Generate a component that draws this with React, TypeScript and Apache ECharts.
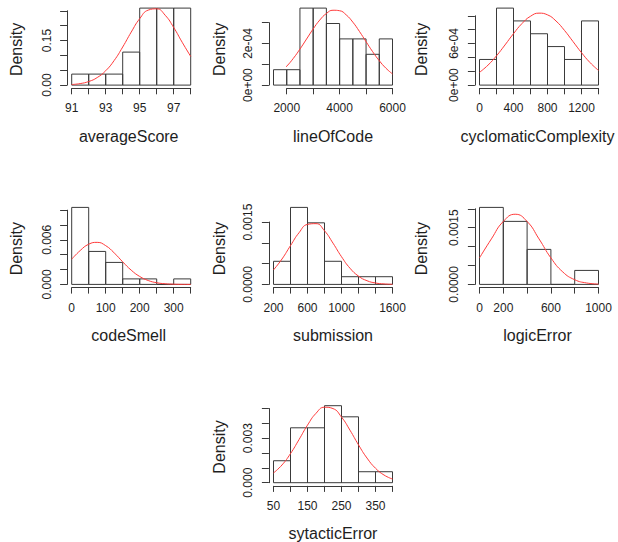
import { useEffect, useRef } from "react";
import * as echarts from "echarts";

// ---------- data (density per bin, normal-curve samples) ----------
const averageScoreBreaks = [91, 92, 93, 94, 95, 96, 97, 98];
const averageScoreDensity = [0.037, 0.037, 0.037, 0.111, 0.259, 0.259, 0.259];
const averageScoreCurveX = [91, 91.5, 92, 92.5, 93, 93.5, 94, 94.5, 95, 95.5, 96, 96.5, 97, 97.5, 98];
const averageScoreCurveY = [0.00196, 0.00511, 0.01199, 0.02536, 0.0483, 0.08286, 0.1281, 0.1782, 0.2234, 0.2522, 0.2565, 0.2349, 0.1938, 0.144, 0.0964];
const averageScoreXAxis = [91, 98, 1];
const averageScoreXLabels = [91, 93, 95, 97];
const averageScoreYAxis = [0, 0.25, 0.05];
const averageScoreYLabelValues = [0, 0.15];
const averageScoreYLabelTexts = ["0.00", "0.15"];

const lineOfCodeBreaks = [1500, 2000, 2500, 3000, 3500, 4000, 4500, 5000, 5500, 6000];
const lineOfCodeDensity = [0.74e-4, 0.74e-4, 3.7e-4, 3.7e-4, 2.96e-4, 2.22e-4, 2.22e-4, 1.48e-4, 2.22e-4];
const lineOfCodeCurveX = [1500, 1750, 2000, 2250, 2500, 2750, 3000, 3250, 3500, 3750, 4000, 4250, 4500, 4750, 5000, 5250, 5500, 5750, 6000];
const lineOfCodeCurveY = [0.4e-4, 0.615e-4, 0.91e-4, 1.285e-4, 1.73e-4, 2.213e-4, 2.698e-4, 3.126e-4, 3.44e-4, 3.597e-4, 3.574e-4, 3.373e-4, 3.025e-4, 2.578e-4, 2.087e-4, 1.605e-4, 1.173e-4, 0.814e-4, 0.537e-4];
const lineOfCodeXAxis = [2000, 6000, 1000];
const lineOfCodeXLabels = [2000, 4000, 6000];
const lineOfCodeYAxis = [0, 3e-4, 1e-4];
const lineOfCodeYLabelValues = [0, 2e-4];
const lineOfCodeYLabelTexts = ["0e+00", "2e-04"];

const cyclomaticBreaks = [0, 200, 400, 600, 800, 1000, 1200, 1400];
const cyclomaticDensity = [3.7e-4, 11.11e-4, 9.26e-4, 7.41e-4, 5.56e-4, 3.7e-4, 9.26e-4];
const cyclomaticCurveX = [0, 100, 200, 300, 400, 500, 600, 700, 800, 900, 1000, 1100, 1200, 1300, 1400];
const cyclomaticCurveY = [1.836e-4, 2.881e-4, 4.227e-4, 5.794e-4, 7.421e-4, 8.883e-4, 9.933e-4, 10.381e-4, 10.138e-4, 9.25e-4, 7.888e-4, 6.284e-4, 4.679e-4, 3.256e-4, 2.116e-4];
const cyclomaticXAxis = [0, 1400, 200];
const cyclomaticXLabels = [0, 400, 800, 1200];
const cyclomaticYAxis = [0, 1e-3, 2e-4];
const cyclomaticYLabelValues = [0, 6e-4];
const cyclomaticYLabelTexts = ["0e+00", "6e-04"];

const codeSmellBreaks = [0, 50, 100, 150, 200, 250, 300, 350];
const codeSmellDensity = [0.01037, 0.00444, 0.00296, 0.00074, 0.00074, 0, 0.00074];
const codeSmellCurveX = [0, 25, 50, 75, 100, 125, 150, 175, 200, 225, 250, 275, 300, 325, 350];
const codeSmellCurveY = [0.003388, 0.004561, 0.005411, 0.00566, 0.005218, 0.004241, 0.003039, 0.001919, 0.001069, 0.000524, 0.000227, 0.0000865, 0.0000291, 0.0000086, 0.0000022];
const codeSmellXAxis = [0, 350, 50];
const codeSmellXLabels = [0, 100, 200, 300];
const codeSmellYAxis = [0, 0.01, 0.002];
const codeSmellYLabelValues = [0, 0.006];
const codeSmellYLabelTexts = ["0.000", "0.006"];

const submissionBreaks = [200, 400, 600, 800, 1000, 1200, 1400, 1600];
const submissionDensity = [0.000556, 0.001852, 0.001481, 0.000556, 0.000185, 0.000185, 0.000185];
const submissionCurveX = [200, 300, 400, 500, 600, 700, 800, 900, 1000, 1100, 1200, 1300, 1400, 1500, 1600];
const submissionCurveY = [0.000348, 0.000611, 0.000933, 0.001242, 0.001443, 0.001461, 0.001289, 0.000992, 0.000666, 0.000389, 0.000199, 0.0000883, 0.0000342, 0.0000116, 0.0000034];
const submissionXAxis = [200, 1600, 200];
const submissionXLabels = [200, 600, 1000, 1600];
const submissionYAxis = [0, 0.0015, 0.0005];
const submissionYLabelValues = [0, 0.0015];
const submissionYLabelTexts = ["0.0000", "0.0015"];

const logicErrorBreaks = [0, 200, 400, 600, 800, 1000];
const logicErrorDensity = [0.002037, 0.001667, 0.000926, 0, 0.00037];
const logicErrorCurveX = [0, 100, 200, 300, 400, 500, 600, 700, 800, 900, 1000];
const logicErrorCurveY = [0.000701, 0.001204, 0.001665, 0.001856, 0.001665, 0.001204, 0.000701, 0.000329, 0.000124, 0.0000378, 0.0000093];
const logicErrorXAxis = [0, 1000, 200];
const logicErrorXLabels = [0, 200, 600, 1000];
const logicErrorYAxis = [0, 0.002, 0.0005];
const logicErrorYLabelValues = [0, 0.0015];
const logicErrorYLabelTexts = ["0.0000", "0.0015"];

const sytacticErrorBreaks = [50, 100, 150, 200, 250, 300, 350, 400];
const sytacticErrorDensity = [0.00148, 0.0037, 0.0037, 0.00519, 0.00444, 0.00074, 0.00074];
const sytacticErrorCurveX = [50, 75, 100, 125, 150, 175, 200, 225, 250, 275, 300, 325, 350, 375, 400];
const sytacticErrorCurveY = [0.000657, 0.001195, 0.001961, 0.002904, 0.003879, 0.004677, 0.005088, 0.004995, 0.004424, 0.003537, 0.002551, 0.001661, 0.000975, 0.000517, 0.000247];
const sytacticErrorXAxis = [50, 400, 50];
const sytacticErrorXLabels = [50, 150, 250, 350];
const sytacticErrorYAxis = [0, 0.005, 0.001];
const sytacticErrorYLabelValues = [0, 0.003];
const sytacticErrorYLabelTexts = ["0.000", "0.003"];

// ---------- layout / style ----------
const FONT = "'Liberation Sans', Arial, Helvetica, sans-serif";
const TEXT = "#1e1e1e";
const LINE = "#3a3a3a";
const RED = "#ff3a3a";
const BIN_START = [71.7, 273.5, 479.5];
const ZERO_Y = [85.1, 284.4, 482.7];
const BIN_SPAN = 119;
const MAX_BAR_PX = 77;
const PAD_X = 4.6;
const X_AXIS_GAP = 3.2;
const Y_NAME_GAP = [42.5, 41.5, 45.5];
const X_NAME_SHIFT = [-2.5, 0, -1.5];
const NAME_CENTER_ABOVE_ZERO = 35.7;
const TICK_FONT = 12;

type Panel = {
  title: string;
  breaks: number[];
  dens: number[];
  cx: number[];
  cy: number[];
  xAxis: number[];
  xLabels: number[];
  yAxis: number[];
  yLabelValues: number[];
  yLabelTexts: string[];
  col: number;
  row: number;
};

const panels: Panel[] = [
  { title: "averageScore", breaks: averageScoreBreaks, dens: averageScoreDensity, cx: averageScoreCurveX, cy: averageScoreCurveY, xAxis: averageScoreXAxis, xLabels: averageScoreXLabels, yAxis: averageScoreYAxis, yLabelValues: averageScoreYLabelValues, yLabelTexts: averageScoreYLabelTexts, col: 0, row: 0 },
  { title: "lineOfCode", breaks: lineOfCodeBreaks, dens: lineOfCodeDensity, cx: lineOfCodeCurveX, cy: lineOfCodeCurveY, xAxis: lineOfCodeXAxis, xLabels: lineOfCodeXLabels, yAxis: lineOfCodeYAxis, yLabelValues: lineOfCodeYLabelValues, yLabelTexts: lineOfCodeYLabelTexts, col: 1, row: 0 },
  { title: "cyclomaticComplexity", breaks: cyclomaticBreaks, dens: cyclomaticDensity, cx: cyclomaticCurveX, cy: cyclomaticCurveY, xAxis: cyclomaticXAxis, xLabels: cyclomaticXLabels, yAxis: cyclomaticYAxis, yLabelValues: cyclomaticYLabelValues, yLabelTexts: cyclomaticYLabelTexts, col: 2, row: 0 },
  { title: "codeSmell", breaks: codeSmellBreaks, dens: codeSmellDensity, cx: codeSmellCurveX, cy: codeSmellCurveY, xAxis: codeSmellXAxis, xLabels: codeSmellXLabels, yAxis: codeSmellYAxis, yLabelValues: codeSmellYLabelValues, yLabelTexts: codeSmellYLabelTexts, col: 0, row: 1 },
  { title: "submission", breaks: submissionBreaks, dens: submissionDensity, cx: submissionCurveX, cy: submissionCurveY, xAxis: submissionXAxis, xLabels: submissionXLabels, yAxis: submissionYAxis, yLabelValues: submissionYLabelValues, yLabelTexts: submissionYLabelTexts, col: 1, row: 1 },
  { title: "logicError", breaks: logicErrorBreaks, dens: logicErrorDensity, cx: logicErrorCurveX, cy: logicErrorCurveY, xAxis: logicErrorXAxis, xLabels: logicErrorXLabels, yAxis: logicErrorYAxis, yLabelValues: logicErrorYLabelValues, yLabelTexts: logicErrorYLabelTexts, col: 2, row: 1 },
  { title: "sytacticError", breaks: sytacticErrorBreaks, dens: sytacticErrorDensity, cx: sytacticErrorCurveX, cy: sytacticErrorCurveY, xAxis: sytacticErrorXAxis, xLabels: sytacticErrorXLabels, yAxis: sytacticErrorYAxis, yLabelValues: sytacticErrorYLabelValues, yLabelTexts: sytacticErrorYLabelTexts, col: 1, row: 2 },
];

function buildOption() {
  const grid: any[] = [];
  const xAxis: any[] = [];
  const yAxis: any[] = [];
  const series: any[] = [];

  panels.forEach((p, i) => {
    const [xMin, xMax, xStep] = p.xAxis;
    const [yMin, yMax, yStep] = p.yAxis;
    const maxD = Math.max(...p.dens);
    const pxY = MAX_BAR_PX / maxD;
    const gridH = (yMax - yMin) * pxY;
    const gridTop = ZERO_Y[p.row] - gridH;
    const first = p.breaks[0];
    const last = p.breaks[p.breaks.length - 1];
    const pxX = BIN_SPAN / (last - first);
    const gridLeft = BIN_START[p.col] + (xMin - first) * pxX;
    const gridW = (xMax - xMin) * pxX;
    const plotLeft = BIN_START[p.col] - PAD_X;
    const yOffset = gridLeft - plotLeft;
    const shiftX = BIN_START[p.col] + BIN_SPAN / 2 + X_NAME_SHIFT[p.col] - (gridLeft + gridW / 2);
    const shiftUp = NAME_CENTER_ABOVE_ZERO - gridH / 2;

    grid.push({ left: gridLeft, top: gridTop, width: gridW, height: gridH, containLabel: false, outerBoundsMode: "none" });

    xAxis.push({
      type: "value",
      gridIndex: i,
      position: "bottom",
      min: xMin,
      max: xMax,
      interval: xStep,
      offset: X_AXIS_GAP,
      axisLine: { show: true, onZero: false, lineStyle: { color: LINE, width: 1 } },
      axisTick: { show: true, inside: false, length: 6, lineStyle: { color: LINE, width: 1 } },
      splitLine: { show: false },
      axisLabel: {
        show: true,
        margin: 14,
        fontSize: TICK_FONT,
        color: TEXT,
        fontFamily: FONT,
        showMinLabel: true,
        showMaxLabel: true,
        formatter: (v: number) => {
          const hit = p.xLabels.find((l) => Math.abs(l - v) < xStep * 1e-3);
          return hit === undefined ? "" : String(hit);
        },
      },
      name: p.title,
      nameLocation: "middle",
      nameGap: 40,
      nameMoveOverlap: false,
      nameTextStyle: {
        fontSize: 16,
        color: TEXT,
        fontFamily: FONT,
        padding: shiftX >= 0 ? [0, 0, 0, 2 * shiftX] : [0, -2 * shiftX, 0, 0],
      },
    });

    yAxis.push({
      type: "value",
      gridIndex: i,
      position: "left",
      min: yMin,
      max: yMax,
      interval: yStep,
      offset: yOffset,
      axisLine: { show: true, onZero: false, lineStyle: { color: LINE, width: 1 } },
      axisTick: { show: true, inside: false, length: 7, lineStyle: { color: LINE, width: 1 } },
      splitLine: { show: false },
      axisLabel: {
        show: true,
        rotate: 90,
        margin: 14.5,
        fontSize: TICK_FONT,
        color: TEXT,
        fontFamily: FONT,
        showMinLabel: true,
        showMaxLabel: true,
        formatter: (v: number) => {
          const k = p.yLabelValues.findIndex((l) => Math.abs(l - v) < yStep * 1e-3);
          return k < 0 ? "" : p.yLabelTexts[k];
        },
      },
      name: "Density",
      nameLocation: "middle",
      nameGap: Y_NAME_GAP[p.col],
      nameMoveOverlap: false,
      nameTextStyle: {
        fontSize: 16,
        color: TEXT,
        fontFamily: FONT,
        padding: shiftUp >= 0 ? [0, 0, 0, 2 * shiftUp] : [0, -2 * shiftUp, 0, 0],
      },
    });

    const bins = p.dens.map((d, k) => [p.breaks[k], p.breaks[k + 1], d]);
    series.push({
      type: "custom",
      xAxisIndex: i,
      yAxisIndex: i,
      clip: false,
      silent: true,
      data: bins,
      encode: { x: [0, 1], y: 2 },
      renderItem: (_params: any, api: any) => {
        const a = api.coord([api.value(0), 0]);
        const b = api.coord([api.value(1), api.value(2)]);
        return {
          type: "rect",
          shape: { x: a[0], y: b[1], width: b[0] - a[0], height: a[1] - b[1] },
          style: { fill: "none", stroke: LINE, lineWidth: 1 },
        };
      },
    });

    series.push({
      type: "line",
      xAxisIndex: i,
      yAxisIndex: i,
      clip: false,
      silent: true,
      smooth: true,
      symbol: "none",
      showSymbol: false,
      data: p.cx.map((x, k) => [x, p.cy[k]]),
      lineStyle: { color: RED, width: 1 },
    });
  });

  return {
    animation: false,
    backgroundColor: "#ffffff",
    textStyle: { fontFamily: FONT },
    grid,
    xAxis,
    yAxis,
    series,
  };
}

export default function App() {
  const ref = useRef<HTMLDivElement | null>(null);
  useEffect(() => {
    if (!ref.current) return;
    const chart = echarts.init(ref.current, undefined, { renderer: "svg" });
    chart.setOption(buildOption() as any);
    return () => chart.dispose();
  }, []);
  return (
    <div
      ref={ref}
      style={{ position: "absolute", left: 0, top: 0, width: 618, height: 542, background: "#fff" }}
    />
  );
}
